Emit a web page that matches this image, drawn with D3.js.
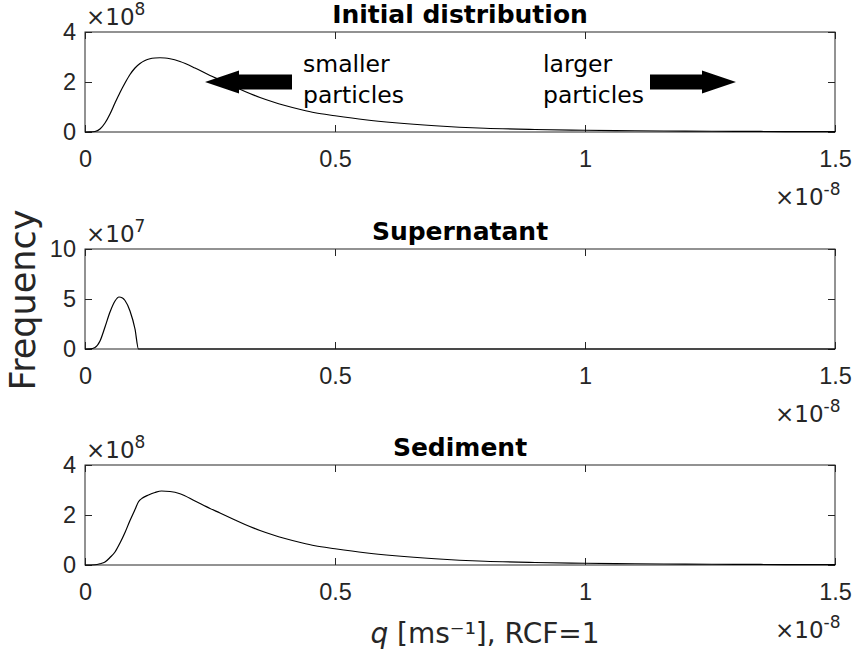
<!DOCTYPE html>
<html lang="en">
<head>
<meta charset="UTF-8">
<title>Frequency distributions</title>
<script src="https://cdn.jsdelivr.net/npm/d3@7"></script>
<style>
    body { margin: 0; background: #fff; }
    svg { font-family: "DejaVu Sans", sans-serif; }
    .tick text { fill: #262626; font-size: 23.5px; }
    .tick line { stroke: #262626; }
    .box { fill: none; stroke: #262626; stroke-width: 1; }
    .curve { fill: none; stroke: #000; stroke-width: 1.2; }
    .title { font-weight: bold; font-size: 25px; fill: #000; text-anchor: middle; }
    .expo { font-size: 23px; fill: #262626; }
    .note { font-size: 23.5px; fill: #000; }
</style>
</head>
<body>
<svg width="857" height="658"></svg>
<script>
// q values are in units of 1e-8 m/s
const qTicks = [0, 0.5, 1, 1.5];

// Initial distribution (x 1e8)
const qInit = [0, 0.01, 0.02, 0.03, 0.04, 0.05, 0.06, 0.07, 0.08, 0.09, 0.10, 0.11, 0.12, 0.13, 0.14, 0.15,
    0.16, 0.17, 0.19, 0.22, 0.25, 0.27, 0.30, 0.32, 0.35, 0.375, 0.40, 0.433, 0.46, 0.50, 0.56, 0.62,
    0.70, 0.80, 0.90, 1.0, 1.1, 1.2, 1.3, 1.4, 1.5];
const freqInit = [0, 0.002, 0.02, 0.12, 0.36, 0.72, 1.16, 1.58, 1.96, 2.30, 2.56, 2.74, 2.86, 2.93, 2.96, 2.97,
    2.96, 2.93, 2.82, 2.56, 2.26, 2.08, 1.80, 1.62, 1.38, 1.21, 1.06, 0.89, 0.77, 0.65, 0.49, 0.37,
    0.25, 0.15, 0.10, 0.07, 0.05, 0.035, 0.025, 0.018, 0.013];

// Supernatant (x 1e7)
const qSuper = [0, 0.01, 0.02, 0.03, 0.04, 0.05, 0.06, 0.068, 0.075, 0.08, 0.09, 0.10, 0.107, 0.2, 0.5, 1.0, 1.5];
const freqSuper = [0, 0.01, 0.15, 0.8, 2.2, 3.7, 4.8, 5.2, 5.1, 4.85, 3.8, 2.0, 0, 0, 0, 0, 0];

// Sediment (x 1e8)
const qSed = [0, 0.02, 0.03, 0.04, 0.05, 0.06, 0.07, 0.08, 0.09, 0.10, 0.107, 0.115, 0.127, 0.14, 0.153,
    0.17, 0.19, 0.22, 0.25, 0.27, 0.30, 0.32, 0.35, 0.375, 0.40, 0.433, 0.46, 0.50, 0.56, 0.62,
    0.70, 0.80, 0.90, 1.0, 1.1, 1.2, 1.3, 1.4, 1.5];
const freqSed = [0, 0.01, 0.05, 0.12, 0.30, 0.52, 0.88, 1.30, 1.78, 2.22, 2.53, 2.68, 2.80, 2.90, 2.96,
    2.94, 2.85, 2.56, 2.26, 2.08, 1.80, 1.62, 1.38, 1.21, 1.06, 0.89, 0.77, 0.65, 0.49, 0.37,
    0.25, 0.15, 0.10, 0.07, 0.05, 0.035, 0.025, 0.018, 0.013];

const svg = d3.select("svg");
const left = 85, right = 835, panelH = 100;

const x = d3.scaleLinear().domain([0, 1.5]).range([left, right]);

function superText(sel, base, sup) {
    sel.append("tspan").text(base);
    sel.append("tspan").attr("font-size", "17px").attr("dy", "-10").text(sup);
}

function panel(top, title, qs, vals, yMax, yTicks, yExp) {
    const y = d3.scaleLinear().domain([0, yMax]).range([top + panelH, top]);
    const g = svg.append("g");

    // y axis (ticks inward)
    g.append("g")
        .attr("transform", `translate(${left},0)`)
        .call(d3.axisLeft(y).tickValues(yTicks).tickSize(-7).tickSizeOuter(0).tickPadding(9)
            .tickFormat(d3.format("~g")))
        .call(a => a.select(".domain").remove());
    g.append("g")
        .attr("transform", `translate(${right},0)`)
        .call(d3.axisRight(y).tickValues(yTicks).tickSize(-7).tickFormat(""))
        .call(a => a.select(".domain").remove());

    // x axis
    g.append("g")
        .attr("transform", `translate(0,${top + panelH})`)
        .call(d3.axisBottom(x).tickValues(qTicks).tickSize(-7).tickPadding(18).tickFormat(d3.format("~g")))
        .call(a => a.select(".domain").remove());
    g.append("g")
        .attr("transform", `translate(0,${top})`)
        .call(d3.axisTop(x).tickValues(qTicks).tickSize(-7).tickFormat(""))
        .call(a => a.select(".domain").remove());

    g.selectAll(".tick text").attr("font-family", null).attr("font-size", null);

    g.append("rect").attr("class", "box")
        .attr("x", left).attr("y", top)
        .attr("width", right - left).attr("height", panelH);

    const line = d3.line()
        .x(d => x(d[0]))
        .y(d => y(d[1]))
        .curve(d3.curveMonotoneX);
    g.append("path").attr("class", "curve")
        .attr("d", line(d3.zip(qs, vals)));

    g.append("text").attr("class", "title")
        .attr("x", (left + right) / 2).attr("y", top - 9)
        .text(title);

    // exponent labels
    g.append("text").attr("class", "expo")
        .attr("x", left + 1).attr("y", top - 7)
        .call(superText, "×10", yExp);
    g.append("text").attr("class", "expo")
        .attr("x", right - 60).attr("y", top + panelH + 73)
        .call(superText, "×10", "-8");

    return { g, y };
}

const p1 = panel(32, "Initial distribution", qInit, freqInit, 4, [0, 2, 4], "8");
panel(249, "Supernatant", qSuper, freqSuper, 10, [0, 5, 10], "7");
panel(465, "Sediment", qSed, freqSed, 4, [0, 2, 4], "8");

// arrows in the first panel (data units)
function arrow(q0, q1, yv) {
    const y0 = p1.y(yv);
    const dir = Math.sign(q1 - q0);
    const x0 = x(q0), x1 = x(q1);
    const hb = x1 - dir * 34;
    const d = `M${x0},${y0 - 7.5} L${hb},${y0 - 7.5} L${hb},${y0 - 11.5} L${x1},${y0}
        L${hb},${y0 + 11.5} L${hb},${y0 + 7.5} L${x0},${y0 + 7.5} Z`;
    p1.g.append("path").attr("d", d).attr("fill", "#000");
}
arrow(0.414, 0.24, 2);
arrow(1.13, 1.302, 2);

const notes = [
    { q: 0.436, lines: ["smaller", "particles"] },
    { q: 0.916, lines: ["larger", "particles"] }
];
notes.forEach(n => {
    const t = p1.g.append("text").attr("class", "note").attr("x", x(n.q)).attr("y", 72);
    n.lines.forEach((s, i) => t.append("tspan").attr("x", x(n.q)).attr("dy", i ? 31 : 0).text(s));
});

// shared y label
svg.append("text")
    .attr("transform", "translate(35,300) rotate(-90)")
    .attr("text-anchor", "middle")
    .attr("font-size", "35px")
    .attr("fill", "#262626")
    .text("Frequency");

// x label
const xl = svg.append("text")
    .attr("x", 485).attr("y", 643)
    .attr("text-anchor", "middle")
    .attr("font-size", "28px")
    .attr("fill", "#262626");
xl.append("tspan").attr("font-style", "italic").text("q");
xl.append("tspan").text(" [ms⁻¹], RCF=1");
</script>
</body>
</html>
